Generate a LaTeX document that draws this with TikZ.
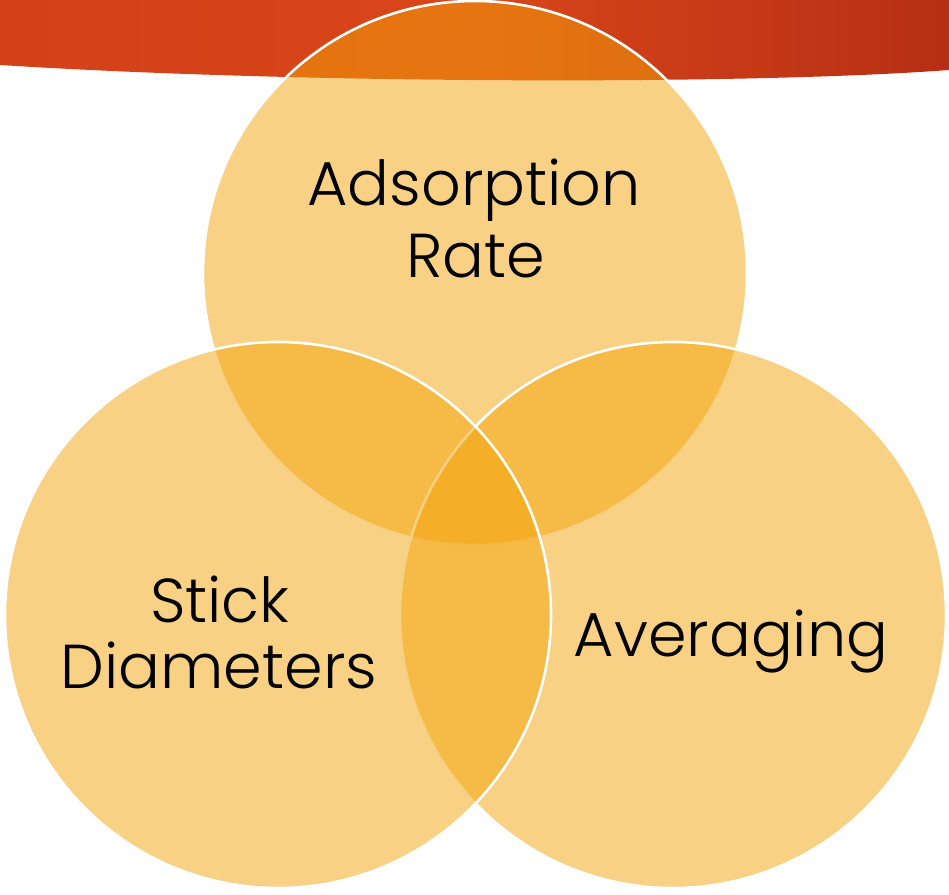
\documentclass[tikz,border=0pt]{standalone}
\usepackage{fontspec}
\setmainfont{Poppins Light}
\begin{document}
\begin{tikzpicture}[x=1pt,y=-1pt,
  venncircle/.style={fill=venn, fill opacity=0.5, draw=white, draw opacity=1, line width=2.6pt},
  label/.style={anchor=base, inner sep=0pt, text=black, font=\fontsize{62}{70}\selectfont}]
\definecolor{venn}{RGB}{243,163,9}
\definecolor{bannerL}{RGB}{212,64,24}
\definecolor{bannerM}{RGB}{217,70,26}
\definecolor{bannerR}{RGB}{182,47,20}
\useasboundingbox (0,0) rectangle (949,894);
% banner
\path[left color=bannerL, right color=bannerR, middle color=bannerM]
  (0,0) -- (949,0) -- (949,70) .. controls (750,85) and (300,84) .. (0,65) -- cycle;
% circles (drawing order: top, right, left)
\path[venncircle] (475,273) circle[radius=272pt];
\path[venncircle] (673,615) circle[radius=273pt];
\path[venncircle] (278,615) circle[radius=273pt];
% labels
\node[label] (adsorption) at (474,205) {Adsorption};
\node[label] (rate) at (476,277) {Rate};
\node[label] (stick) at (220,622) {Stick};
\node[label] (diameters) at (219,688) {Diameters};
\node[label] (averaging) at (731,656) {Averaging};
\end{tikzpicture}
\end{document}
